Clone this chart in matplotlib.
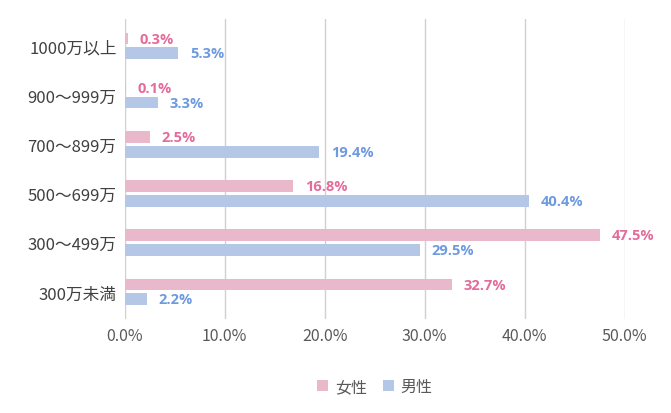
import matplotlib.pyplot as plt
import numpy as np

plt.rcParams["font.family"] = ["Noto Sans CJK JP", "DejaVu Sans"]

categories = ["1000万以上", "900〜999万", "700〜899万", "500〜699万", "300〜499万", "300万未満"]
female = [0.3, 0.1, 2.5, 16.8, 47.5, 32.7]
male = [5.3, 3.3, 19.4, 40.4, 29.5, 2.2]

pink_bar = "#E9B9CB"
blue_bar = "#B4C7E7"
pink_txt = "#E46C9B"
blue_txt = "#6E9AE0"

fig = plt.figure(figsize=(6.71, 4.14), dpi=100)
ax = fig.add_axes([0.186, 0.227, 0.745, 0.725])

y = np.arange(len(categories))[::-1].astype(float)
h = 0.24
ax.barh(y + 0.15, female, height=h, color=pink_bar, label="女性")
ax.barh(y - 0.15, male, height=h, color=blue_bar, label="男性")

for yi, f, m in zip(y, female, male):
    ax.text(f + 1.2, yi + 0.15, f"{f:.1f}%", va="center", ha="left", family="Open Sans",
            color=pink_txt, fontsize=10.5, fontweight="bold")
    ax.text(m + 1.2, yi - 0.15, f"{m:.1f}%", va="center", ha="left", family="Open Sans",
            color=blue_txt, fontsize=10.5, fontweight="bold")

ax.set_xlim(0, 50)
ax.set_ylim(-0.55, 5.55)
ax.set_xticks(np.arange(0, 51, 10))
ax.set_xticklabels([f"{v:.1f}%" for v in np.arange(0, 51, 10)], color="#595959", fontsize=11.5)
ax.set_yticks(y)
ax.set_yticklabels(categories, color="#404040", fontsize=12)
ax.tick_params(length=0, pad=6)
ax.xaxis.grid(True, color="#D0D0D0", linewidth=1)
ax.set_axisbelow(True)
for s in ax.spines.values():
    s.set_visible(False)

ax.legend(loc="upper center", bbox_to_anchor=(0.5, -0.15), ncol=2, frameon=False,
          fontsize=11.5, handlelength=0.7, handleheight=0.7, labelcolor="#595959",
          columnspacing=1.0, handletextpad=0.4)

fig.savefig("out.png", dpi=100)
